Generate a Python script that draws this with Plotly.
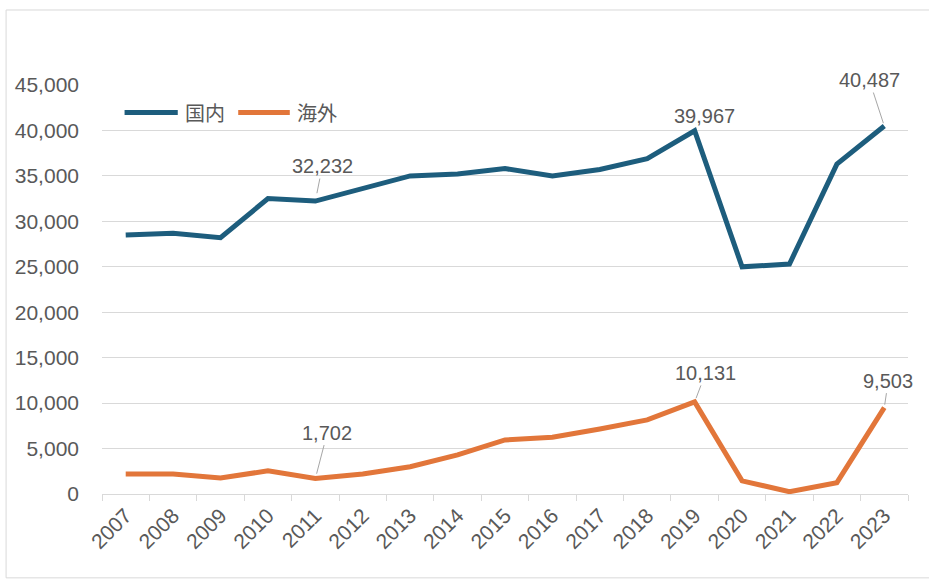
import plotly.graph_objects as go

years = [str(y) for y in range(2007, 2024)]
domestic = [28500, 28700, 28200, 32500, 32232, 33600, 35000, 35200, 35800,
            35000, 35700, 36900, 39967, 25000, 25300, 36300, 40487]
overseas = [2200, 2200, 1750, 2550, 1702, 2200, 3000, 4300, 5950,
            6250, 7150, 8150, 10131, 1450, 250, 1250, 9503]
series_names = ["国内", "海外"]

teal = "#1D5D7D"
orange = "#E2763A"
grid = "#D9D9D9"
txt = "#595959"
num_font = "Liberation Sans"
cjk_font = "Noto Sans CJK JP"

fig = go.Figure()
fig.add_trace(go.Scatter(x=years, y=domestic, name=series_names[0], mode="lines",
                         line=dict(color=teal, width=5), showlegend=False))
fig.add_trace(go.Scatter(x=years, y=overseas, name=series_names[1], mode="lines",
                         line=dict(color=orange, width=5), showlegend=False))

# value labels with thin leader lines (index, series, offsets, standoff)
labels = [
    (4, domestic, 7, -35, 8),
    (12, domestic, 10, -15, None),
    (16, domestic, -15, -46, 3),
    (4, overseas, 12, -46, 5),
    (12, overseas, 11, -29, 4),
    (16, overseas, 4, -27, 3),
]
for i, series, ax, ay, stand in labels:
    y = series[i]
    if stand is None:
        fig.add_annotation(x=i, y=y, text=f"{y:,}", showarrow=False,
                           xshift=ax, yshift=-ay,
                           font=dict(family=num_font, size=20, color=txt))
    else:
        fig.add_annotation(x=i, y=y, text=f"{y:,}", showarrow=True,
                           arrowhead=0, arrowwidth=1, arrowcolor="#A6A6A6",
                           ax=ax, ay=ay, standoff=stand,
                           font=dict(family=num_font, size=20, color=txt))

# legend drawn inside the plot area: long line samples followed by names
leg_y = 0.933
leg_items = [(0.028, 0.094, 0.100, teal, series_names[0]),
             (0.169, 0.233, 0.239, orange, series_names[1])]
for x0, x1, xt, color, name in leg_items:
    fig.add_shape(type="line", xref="paper", yref="paper",
                  x0=x0, x1=x1, y0=leg_y, y1=leg_y,
                  line=dict(color=color, width=5))
    fig.add_annotation(xref="paper", yref="paper", x=xt, y=leg_y, text=name,
                       showarrow=False, xanchor="left", yanchor="middle",
                       font=dict(family=cjk_font, size=20, color=txt))

# outer chart frame
fig.add_shape(type="rect", xref="paper", yref="paper",
              x0=-0.119, x1=1.06, y0=-0.205, y1=1.1834,
              line=dict(color=grid, width=1), layer="below")

fig.update_layout(
    width=929, height=581,
    margin=dict(l=102, r=21, t=85, b=87),
    paper_bgcolor="white", plot_bgcolor="white",
    showlegend=False,
    xaxis=dict(type="category", range=[-0.5, len(years) - 0.5],
               tickson="boundaries", ticks="outside",
               ticklen=6, tickcolor=grid, tickangle=-45, showgrid=False,
               showline=True, linecolor=grid, linewidth=1,
               tickfont=dict(family=num_font, size=21, color=txt)),
    yaxis=dict(range=[0, 45000], dtick=5000, tickformat=",", showgrid=True,
               gridcolor=grid, gridwidth=1, zeroline=False, showline=False,
               ticks="", ticklabelstandoff=22,
               tickfont=dict(family=num_font, size=21, color=txt)),
)

fig.write_html("out.html")
